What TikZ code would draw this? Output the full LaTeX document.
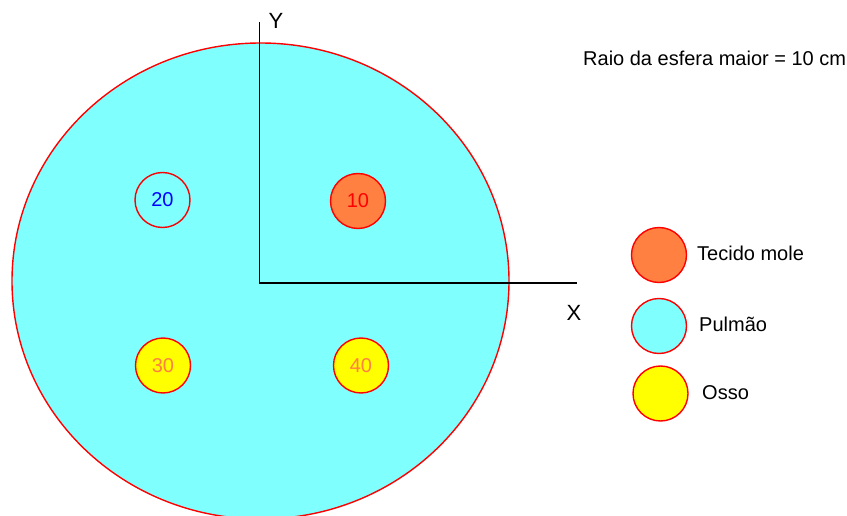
\documentclass[tikz,border=0pt]{standalone}
\usepackage{fontspec}
\setmainfont{Liberation Sans}
\usetikzlibrary{shapes.geometric}
\definecolor{lung}{RGB}{128,255,255}
\definecolor{soft}{RGB}{255,128,64}
\definecolor{bone}{RGB}{255,255,0}
\definecolor{edge}{RGB}{255,0,0}
\definecolor{numblue}{RGB}{0,0,255}
\tikzset{
  disc/.style={circle, draw=edge, line width=1.4pt, minimum size=55pt, inner sep=0pt,
    font=\fontsize{20}{20}\selectfont},
  lbl/.style={anchor=west, inner sep=0pt, font=\fontsize{20}{20}\selectfont},
  axis/.style={draw=black, line width=1.3pt},
  axlbl/.style={inner sep=0pt, font=\fontsize{22}{22}\selectfont}
}
\begin{document}
\begin{tikzpicture}[x=1pt,y=-1pt]
\useasboundingbox[fill=white] (0,0) rectangle (847,516);
\begin{scope}
\clip (0,0) rectangle (847,516);
\node[ellipse, draw=edge, fill=lung, line width=1.4pt, minimum width=497pt, minimum height=476pt, inner sep=0pt] (big) at (260.5,281) {};
\end{scope}
\coordinate (ytop) at (259.5,22);
\coordinate (O) at (259.5,283);
\coordinate (xend) at (577,283);
\draw[axis] (ytop) -- (O) -- (xend);
\node[axlbl] (ylab) at (276,21) {Y};
\node[axlbl] (xlab) at (574,313) {X};
\node[disc, fill=lung, text=numblue] (c20) at (162.5,200) {20};
\node[disc, fill=soft, text=edge] (c10) at (358,201) {10};
\node[disc, fill=bone, text=soft] (c30) at (163,365.5) {30};
\node[disc, fill=bone, text=soft] (c40) at (361,365.5) {40};
\node[lbl] (raio) at (583,58) {Raio da esfera maior = 10 cm};
\node[disc, fill=soft] (lsoft) at (659,255) {};
\node[disc, fill=lung] (llung) at (659,326) {};
\node[disc, fill=bone] (lbone) at (660.5,393.5) {};
\node[lbl] (tsoft) at (697,253) {Tecido mole};
\node[lbl] (tlung) at (699,324) {Pulmão};
\node[lbl] (tbone) at (702,393) {Osso};
\end{tikzpicture}
\end{document}
